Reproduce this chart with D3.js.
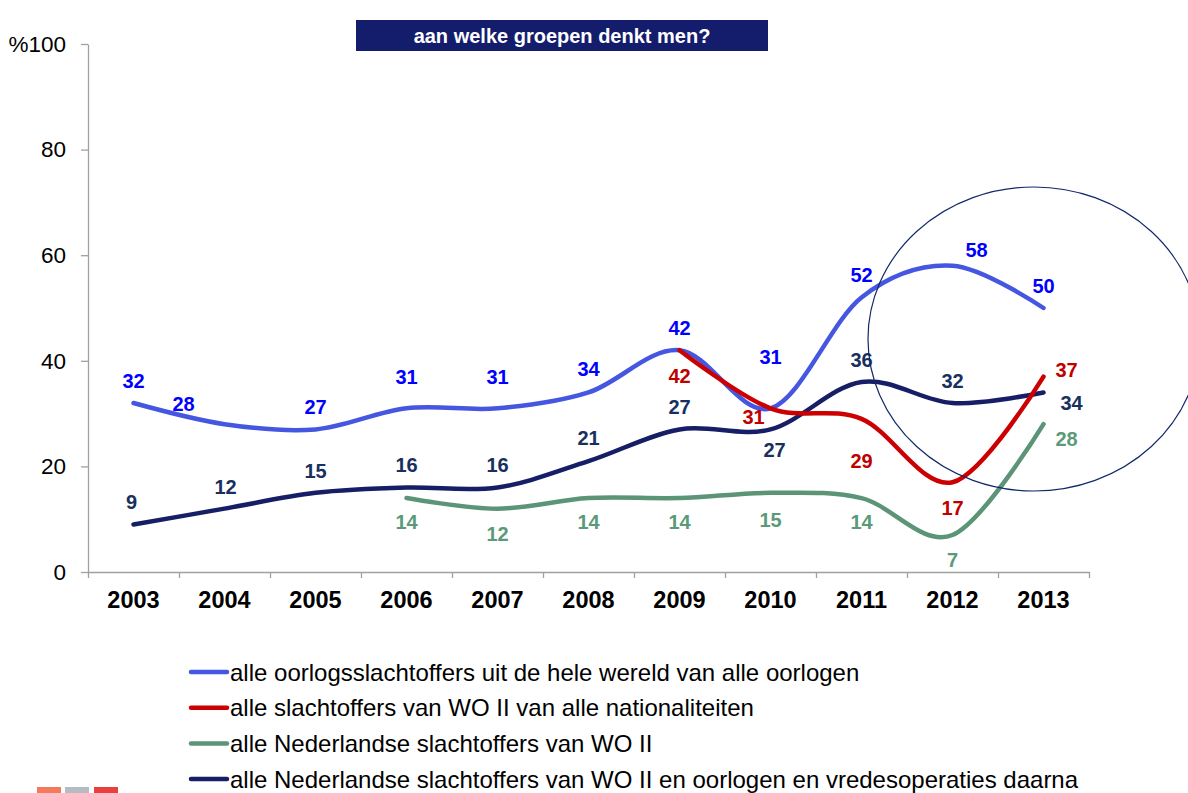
<!DOCTYPE html>
<html>
<head>
<meta charset="utf-8">
<script src="https://cdn.jsdelivr.net/npm/d3@7"></script>
<style>
  body { margin: 0; background: #fff; }
  svg { font-family: "Liberation Sans", Arial, sans-serif; }
</style>
</head>
<body>
<div id="chart"></div>
<script>
var years = ["2003", "2004", "2005", "2006", "2007", "2008", "2009", "2010", "2011", "2012", "2013"];
var yTicks = [0, 20, 40, 60, 80, 100];

// null = geen meting in dat jaar
var wereld = [32, 28, 27, 31, 31, 34, 42, 31, 52, 58, 50];
var woAlle = [null, null, null, null, null, null, 42, 31, 29, 17, 37];
var nlWo = [null, null, null, 14, 12, 14, 14, 15, 14, 7, 28];
var nlNa = [9, 12, 15, 16, 16, 21, 27, 27, 36, 32, 34];

var legendNames = [
    "alle oorlogsslachtoffers uit de hele wereld van alle oorlogen",
    "alle slachtoffers van WO II van alle nationaliteiten",
    "alle Nederlandse slachtoffers van WO II",
    "alle Nederlandse slachtoffers van WO II en oorlogen en vredesoperaties daarna"
];

// label verschuivingen [dx, dy] per punt
var offWereld = [[0,-22],[-41,-20],[0,-22],[0,-31],[0,-31],[0,-23],[0,-22],[0,-51],[0,-22],[24,-16],[0,-22]];
var offWoAlle = [null,null,null,null,null,null,[0,26],[-17,9],[0,42],[0,26],[23,-7]];
var offNlWo = [null,null,null,[0,24],[0,25],[0,24],[0,24],[0,27],[0,24],[0,25],[23,15]];
var offNlNa = [[-2,-22],[1,-22],[0,-22],[0,-23],[0,-23],[0,-23],[0,-22],[4,21],[0,-22],[0,-22],[28,11]];

var width = 1188,
    height = 793;

var series = [
    { values: wereld, offsets: offWereld, line: "#4556E0", label: "#0000FF" },
    { values: nlWo, offsets: offNlWo, line: "#5B9477", label: "#5B9A78" },
    { values: nlNa, offsets: offNlNa, line: "#161E66", label: "#17305E" },
    { values: woAlle, offsets: offWoAlle, line: "#CC0000", label: "#C00000" }
];
var legendOrder = [0, 3, 1, 2];

var svg = d3.select("#chart").append("svg")
    .attr("width", width)
    .attr("height", height);

var x = d3.scaleBand().domain(years).range([88, 1089]);
var xEdge = d3.scaleLinear().domain([0, years.length]).range([88, 1089]);
var y = d3.scaleLinear().domain([0, 100]).range([572, 44]);

function cx(yr) { return x(yr) + x.bandwidth() / 2; }

// titel
svg.append("rect")
    .attr("x", 356).attr("y", 20)
    .attr("width", 412).attr("height", 31)
    .style("fill", "#141C6C");
svg.append("text")
    .attr("x", 562).attr("y", 36)
    .attr("text-anchor", "middle")
    .attr("dominant-baseline", "central")
    .style("fill", "#fff")
    .style("font-size", "20px")
    .style("font-weight", "bold")
    .text("aan welke groepen denkt men?");

// assen
var yAxis = svg.append("g")
    .attr("transform", "translate(88,0)")
    .call(d3.axisLeft(y).tickValues(yTicks).tickSize(7).tickSizeOuter(0).tickPadding(15)
        .tickFormat(function (d) { return d === 100 ? "%100" : d; }));
yAxis.selectAll("text").style("font-size", "22.5px").style("fill", "#000")
    .style("font-family", "'Liberation Sans', Arial, sans-serif");

var xTicks = svg.append("g")
    .attr("transform", "translate(0,572)")
    .call(d3.axisBottom(xEdge).ticks(years.length).tickSize(6).tickSizeOuter(0).tickFormat(""));

var xAxis = svg.append("g")
    .attr("transform", "translate(0,572)")
    .call(d3.axisBottom(x).tickSize(0).tickPadding(19));
xAxis.select(".domain").remove();
xAxis.selectAll("text").style("font-size", "23.5px").style("font-weight", "bold").style("fill", "#000")
    .style("font-family", "'Liberation Sans', Arial, sans-serif");

svg.selectAll(".domain, .tick line").style("stroke", "#A0A0A0").style("stroke-width", "1.3px");

// lijnen
var line = d3.line()
    .defined(function (d) { return d.v !== null; })
    .x(function (d) { return cx(d.yr); })
    .y(function (d) { return y(d.v); })
    .curve(d3.curveCardinal.tension(0));

series.forEach(function (s) {
    var pts = years.map(function (yr, i) { return { yr: yr, v: s.values[i], off: s.offsets[i] }; });
    svg.append("path")
        .datum(pts)
        .attr("d", line)
        .style("fill", "none")
        .style("stroke", s.line)
        .style("stroke-width", 4.5)
        .style("stroke-linecap", "round");
    s.pts = pts;
});

// data labels
series.forEach(function (s) {
    svg.append("g")
        .selectAll("text")
        .data(s.pts.filter(function (d) { return d.v !== null; }))
        .enter().append("text")
        .attr("x", function (d) { return cx(d.yr) + d.off[0]; })
        .attr("y", function (d) { return y(d.v) + d.off[1]; })
        .attr("text-anchor", "middle")
        .attr("dominant-baseline", "central")
        .style("font-size", "20px")
        .style("font-weight", "bold")
        .style("fill", s.label)
        .text(function (d) { return d.v; });
});

// markering
svg.append("ellipse")
    .attr("cx", 1034).attr("cy", 339)
    .attr("rx", 166).attr("ry", 152)
    .style("fill", "none")
    .style("stroke", "#14296A")
    .style("stroke-width", 1.2);

// legenda
var legend = svg.append("g")
    .selectAll("g")
    .data(legendOrder)
    .enter().append("g")
    .attr("transform", function (d, i) { return "translate(190," + (672 + i * 35.7) + ")"; });
legend.append("line")
    .attr("x1", 1).attr("x2", 37)
    .style("stroke", function (d) { return series[d].line; })
    .style("stroke-width", 4.5)
    .style("stroke-linecap", "round");
legend.append("text")
    .attr("x", 40)
    .attr("dominant-baseline", "central")
    .style("font-size", "24px")
    .style("fill", "#000")
    .text(function (d, i) { return legendNames[i]; });

// logo (afgesneden)
var logo = svg.append("g").attr("transform", "translate(37,787)");
logo.append("rect").attr("x", 0).attr("width", 24).attr("height", 8).style("fill", "#F47A5E");
logo.append("rect").attr("x", 28).attr("width", 24).attr("height", 8).style("fill", "#B4BCC2");
logo.append("rect").attr("x", 57).attr("width", 24).attr("height", 8).style("fill", "#E8403C");
</script>
</body>
</html>
